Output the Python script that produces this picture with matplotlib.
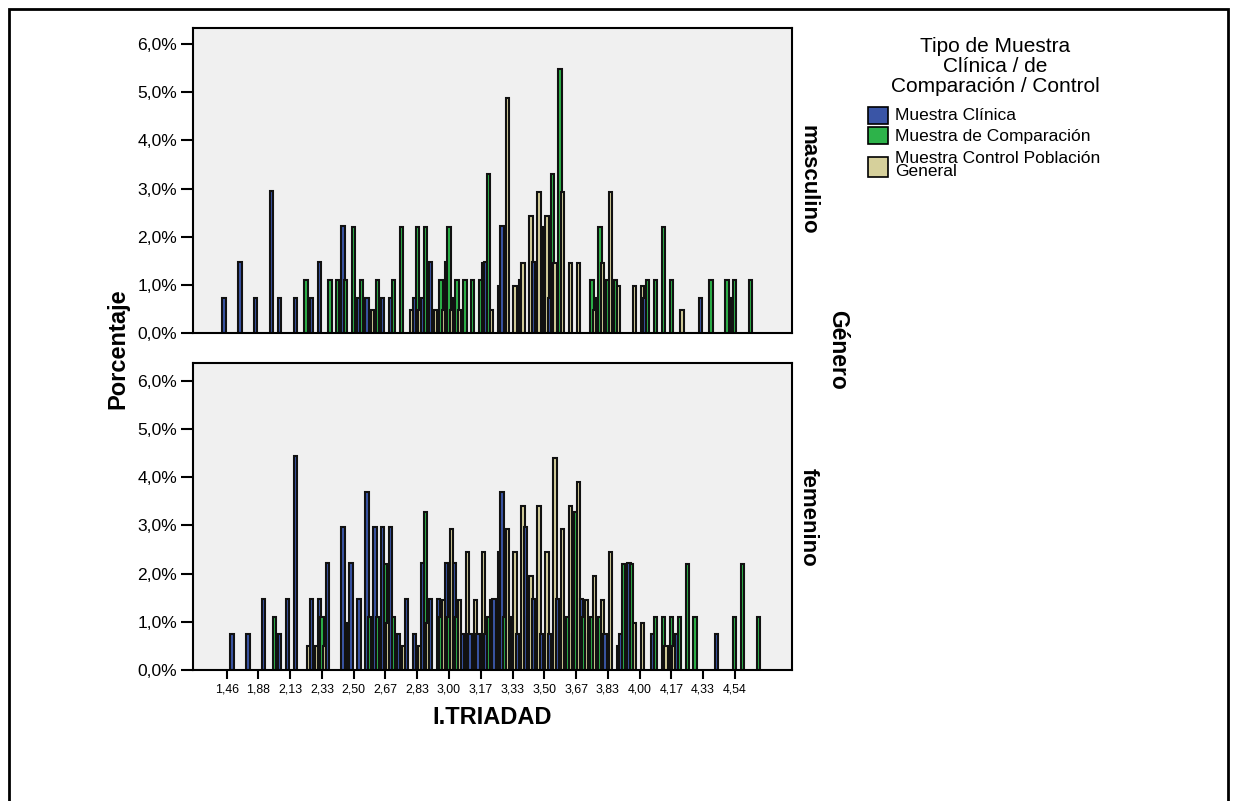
import numpy as np
import matplotlib
matplotlib.use("Agg")
import matplotlib.pyplot as plt
from matplotlib.patches import Rectangle
from matplotlib.ticker import FuncFormatter, FixedLocator

plt.rcParams['font.family'] = ['Liberation Sans', 'DejaVu Sans']

# ---------------- data (percent of each sample group within gender) ----------------
n_categories = 68  # distinct I.TRIADAD values, labels shown every 4th category
tick_labels = ["1,46", "1,88", "2,13", "2,33", "2,50", "2,67", "2,83", "3,00", "3,17",
               "3,33", "3,50", "3,67", "3,83", "4,00", "4,17", "4,33", "4,54"]
series_names = ["Muestra Clínica", "Muestra de Comparación",
                "Muestra Control Población\nGeneral"]
panel_names = ["masculino", "femenino"]

masc_clinica = [
    0.74, 0, 1.48, 0, 0.74, 0, 2.96, 0.74, 0, 0.74,
    0, 0.74, 1.48, 0, 0, 2.22, 0, 0.74, 0.74, 0,
    0.74, 0.74, 0, 0, 0.74, 0.74, 1.48, 0, 1.48, 0.74,
    0, 0, 0, 1.48, 0, 2.22, 0, 0, 0, 1.48,
    0, 0.74, 0, 0, 0, 0, 0, 0.74, 0, 0,
    0, 0, 0, 0.74, 0, 0, 0, 0, 0, 0,
    0.74, 0, 0, 0, 0.74, 0, 0, 0]
masc_comparacion = [
    0, 0, 0, 0, 0, 0, 0, 0, 0, 0,
    1.10, 0, 0, 1.10, 1.10, 1.10, 2.20, 1.10, 0, 1.10,
    0, 1.10, 2.20, 0, 2.20, 2.20, 0, 1.10, 2.20, 1.10,
    1.10, 1.10, 1.10, 3.30, 0, 0, 0, 1.10, 0, 1.10,
    2.20, 3.30, 5.49, 0, 0, 0, 1.10, 2.20, 1.10, 1.10,
    0, 0, 0, 1.10, 1.10, 2.20, 1.10, 0, 0, 0,
    0, 1.10, 0, 1.10, 1.10, 0, 1.10, 0]
masc_control = [
    0, 0, 0, 0, 0, 0, 0, 0, 0, 0,
    0, 0, 0, 0, 0, 0, 0, 0, 0.49, 0,
    0, 0, 0, 0.49, 0.49, 0, 0.49, 0.49, 0.49, 0.49,
    0, 0, 1.46, 0.49, 0.98, 4.88, 0.98, 1.46, 2.44, 2.93,
    2.44, 1.46, 2.93, 1.46, 1.46, 0, 0.49, 1.46, 2.93, 0.98,
    0, 0.98, 0.98, 0, 0, 0, 0, 0.49, 0, 0,
    0, 0, 0, 0, 0, 0, 0, 0]

fem_clinica = [
    0, 0.74, 0, 0.74, 0, 1.48, 0, 0.74, 1.48, 4.44,
    0, 1.48, 1.48, 2.22, 0, 2.96, 2.22, 1.48, 3.70, 2.96,
    2.96, 2.96, 0.74, 1.48, 0.74, 2.22, 1.48, 1.48, 2.22, 2.22,
    0.74, 0.74, 0.74, 0.74, 1.48, 3.70, 0, 0.74, 2.96, 1.48,
    0.74, 0.74, 1.48, 0, 0.74, 1.48, 0.74, 0, 0.74, 0,
    0.74, 2.22, 0, 0, 0.74, 0, 0, 0.74, 0, 0,
    0, 0, 0.74, 0, 0, 0, 0, 0]
fem_comparacion = [
    0, 0, 0, 0, 0, 0, 1.09, 0, 0, 0,
    0, 0, 1.09, 0, 0, 0, 0, 0, 1.09, 1.09,
    2.19, 1.09, 0, 0, 0, 3.28, 0, 1.09, 1.09, 1.09,
    0, 0, 0, 1.09, 0, 1.09, 1.09, 0, 1.09, 1.09,
    0, 0, 0, 1.09, 3.28, 1.09, 1.09, 1.09, 0, 0,
    2.19, 2.19, 0, 0, 1.09, 1.09, 1.09, 1.09, 2.19, 1.09,
    0, 0, 0, 0, 1.09, 2.19, 0, 1.09]
fem_control = [
    0, 0, 0, 0, 0, 0, 0, 0, 0, 0,
    0.49, 0.49, 0.49, 0, 0, 0.98, 0, 0, 0, 0,
    0.98, 0, 0.49, 0, 0.49, 0.98, 0, 1.46, 2.93, 1.46,
    2.44, 1.46, 2.44, 1.46, 2.44, 2.93, 2.44, 3.41, 1.95, 3.41,
    2.44, 4.39, 2.93, 3.41, 3.90, 1.46, 1.95, 1.46, 2.44, 0.49,
    0, 0.98, 0.98, 0, 0, 0.49, 0.49, 0, 0, 0,
    0, 0, 0, 0, 0, 0, 0, 0]

# ---------------- styling ----------------
colors = ["#3a55a6", "#2db34a", "#d6d09b"]
W, H = 1233, 801
fig = plt.figure(figsize=(W / 100, H / 100), dpi=100)
fig.patch.set_facecolor("white")


def rect(x0, y0, x1, y1):
    return [x0 / W, 1 - y1 / H, (x1 - x0) / W, (y1 - y0) / H]


def fx(x):
    return x / W


def fy(y):
    return 1 - y / H


ax_top = fig.add_axes(rect(193, 28, 792, 333.3))
ax_bot = fig.add_axes(rect(193, 363, 792, 670))

panels = [(ax_top, [masc_clinica, masc_comparacion, masc_control], 6.33),
          (ax_bot, [fem_clinica, fem_comparacion, fem_control], 6.37)]

xs = np.arange(n_categories)
offsets = [-1 / 3, 0.0, 1 / 3]
pct_fmt = FuncFormatter(lambda v, p: f"{v:.1f}%".replace(".", ","))

for ax, series, ytop in panels:
    ax.set_facecolor("#f0f0f0")
    for k, vals in enumerate(series):
        vals = np.asarray(vals, dtype=float)
        m = vals > 0
        bars = ax.bar(xs[m] + offsets[k], vals[m], width=0.42, color=colors[k],
                      edgecolor="#111111", linewidth=1.5)
        for idx, patch in zip(xs[m], bars.patches):
            patch.set_zorder(2 + 0.001 * (3 * idx + k))
    ax.set_xlim(-4.24, 71.2)
    ax.set_ylim(0, ytop)
    ax.yaxis.set_major_locator(FixedLocator([0, 1, 2, 3, 4, 5, 6]))
    ax.yaxis.set_major_formatter(pct_fmt)
    ax.tick_params(axis="y", direction="out", length=8.5, width=1.5,
                   labelsize=12.6, pad=3, color="black")
    for s in ax.spines.values():
        s.set_linewidth(1.5)
        s.set_color("black")
        s.set_zorder(5)

ax_top.set_xticks([])
tick_pos = np.arange(0, 4 * len(tick_labels), 4)
ax_bot.set_xticks(tick_pos)
ax_bot.set_xticklabels(tick_labels)
ax_bot.tick_params(axis="x", direction="out", length=6.5, width=1.5,
                   labelsize=8.9, pad=3.5)

# axis titles
fig.text(fx(118), fy(349), "Porcentaje", rotation=90, fontsize=17, fontweight="bold",
         ha="center", va="center")
fig.text(fx(492), fy(718), "I.TRIADAD", fontsize=17, fontweight="bold",
         ha="center", va="center")

# facet strip labels
fig.text(fx(808), fy(180), panel_names[0], rotation=-90, fontsize=16,
         fontweight="bold", ha="center", va="center")
fig.text(fx(808), fy(517), panel_names[1], rotation=-90, fontsize=16,
         fontweight="bold", ha="center", va="center")
fig.text(fx(838), fy(350), "Género", rotation=-90, fontsize=16.5,
         fontweight="bold", ha="center", va="center")

# legend
title_lines = ["Tipo de Muestra", "Clínica / de", "Comparación / Control"]
for i, t in enumerate(title_lines):
    fig.text(fx(995), fy(47 + 20 * i), t, fontsize=15, ha="center", va="center")

patch_boxes = [(107, 124), (127, 144), (157, 177)]
text_y = [116, 137, 165]
for i, name in enumerate(series_names):
    y0, y1 = patch_boxes[i]
    fig.patches.append(Rectangle((fx(868), fy(y1)), (888 - 868) / W, (y1 - y0) / H,
                                 transform=fig.transFigure, facecolor=colors[i],
                                 edgecolor="black", linewidth=1.2))
    fig.text(fx(895), fy(text_y[i]), name, fontsize=12.5, ha="left", va="center",
             linespacing=0.85)

# outer frame
fig.patches.append(Rectangle((fx(8.5), -0.05), (1228 - 8.5) / W, fy(8.5) + 0.05,
                             transform=fig.transFigure, fill=False,
                             edgecolor="black", linewidth=2))

fig.savefig("out.png", dpi=100)
